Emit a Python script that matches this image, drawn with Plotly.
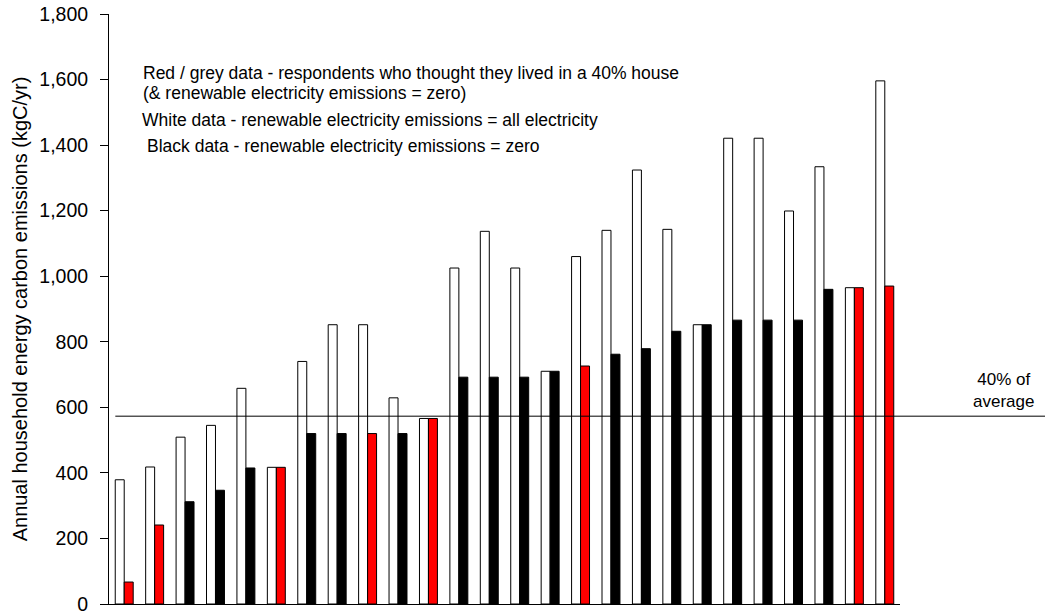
import plotly.graph_objects as go

households = [f"H{i}" for i in range(1, 27)]
white_values = [379, 418, 509, 545, 658, 417, 740, 852, 852, 629, 566,
                1025, 1137, 1025, 710, 1060, 1140, 1324, 1143, 852,
                1421, 1421, 1199, 1334, 965, 1596]
zero_values = [67, 241, 312, 347, 415, 417, 520, 520, 520, 520, 566,
               692, 692, 692, 710, 726, 762, 779, 832, 852,
               866, 866, 866, 960, 965, 970]
thought_40 = [True, True, False, False, False, True, False, False, True, False, True,
              False, False, False, False, True, False, False, False, False,
              False, False, False, False, True, True]
forty_pct_of_average = 573

y_ticks = list(range(0, 1801, 200))
y_tick_labels = [f"{v:,}" for v in y_ticks]

second_colors = ["#ff0000" if t else "#000000" for t in thought_40]

FONT = "Liberation Sans, Arial, sans-serif"

fig = go.Figure()
fig.add_trace(go.Bar(
    x=households, y=white_values, name="White data",
    marker=dict(color="#ffffff", line=dict(color="#000000", width=1)),
))
fig.add_trace(go.Bar(
    x=households, y=zero_values, name="Black data",
    marker=dict(color=second_colors, line=dict(color="#000000", width=1)),
))

fig.add_shape(type="line", xref="paper", yref="y",
              x0=0.008, x1=1.2, y0=forty_pct_of_average, y1=forty_pct_of_average,
              line=dict(color="#000000", width=1))

notes = [
    ("Red / grey data - respondents who thought they lived in a 40% house", 0.041, 1620),
    ("(& renewable electricity emissions = zero)", 0.041, 1559),
    ("White data - renewable electricity emissions = all electricity", 0.0395, 1477),
    ("Black data - renewable electricity emissions = zero", 0.046, 1397),
]
for txt, xp, yv in notes:
    fig.add_annotation(text=txt, xref="paper", yref="y", x=xp, y=yv,
                       xanchor="left", yanchor="middle", showarrow=False,
                       font=dict(family=FONT, size=17.5, color="#000000"))

fig.add_annotation(text="40% of<br>average", xref="paper", yref="y",
                   x=1.131, y=650, xanchor="center", yanchor="middle",
                   showarrow=False, align="center",
                   font=dict(family=FONT, size=17, color="#000000"))

fig.update_layout(
    width=1045, height=614,
    margin=dict(l=109, r=145, t=14, b=10, autoexpand=False),
    paper_bgcolor="#ffffff", plot_bgcolor="#ffffff",
    barmode="group", bargap=0.41, bargroupgap=0,
    showlegend=False,
    font=dict(family=FONT, color="#000000"),
)
fig.update_xaxes(showticklabels=False, showline=True, linecolor="#000000",
                 linewidth=1, ticks="", showgrid=False, zeroline=False)
fig.update_yaxes(range=[0, 1800], tickvals=y_ticks, ticktext=y_tick_labels,
                 ticks="outside", ticklen=8, tickcolor="#000000",
                 showline=True, linecolor="#000000", linewidth=1,
                 showgrid=False, zeroline=False, automargin=False,
                 ticklabeloverflow="allow", ticklabelstandoff=8,
                 tickfont=dict(family=FONT, size=19.5, color="#000000"),
                 title=dict(text="Annual household energy carbon emissions (kgC/yr)",
                            font=dict(family=FONT, size=20, color="#000000"),
                            standoff=6))

fig.write_html(
    "out.html",
    config={"displayModeBar": False},
    post_script="document.body.style.margin='0';document.body.style.overflow='hidden';",
)
